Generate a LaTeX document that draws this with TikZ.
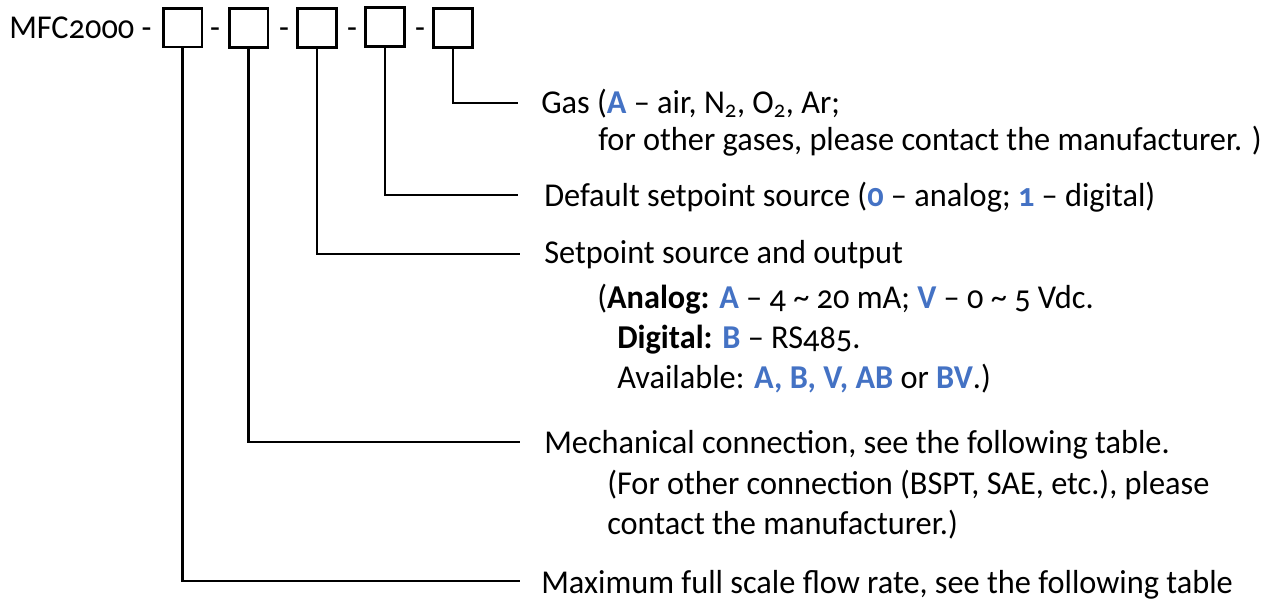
\documentclass[tikz,border=0pt]{standalone}
\usepackage{fontspec}
\setmainfont[Numbers=OldStyle,FakeStretch=0.97]{Carlito}
\usetikzlibrary{positioning}
\definecolor{codeblue}{HTML}{4472C4}
\newcommand{\code}[1]{\textbf{\color{codeblue}#1}}

\begin{document}
\begin{tikzpicture}[x=0.75pt,y=-0.75pt, every node/.style={font=\fontsize{25}{30}\selectfont,inner sep=0pt},
  slot/.style={draw,line width=2pt,minimum size=29pt}, lead/.style={line width=1.8pt}]
\useasboundingbox (0,0) rectangle (1277,601);
% model code with five slots
\node[anchor=base west] (model) at (9,38) {MFC2000 -};
\node[slot] (s1) at (182.5,27.5) {};
\node[slot] (s2) at (248.5,28) {};
\node[slot] (s3) at (317,28) {};
\node[slot] (s4) at (385,27) {};
\node[slot] (s5) at (453,28) {};
\node[anchor=base] (d1) at (215,38) {-};
\node[anchor=base] (d2) at (284,38) {-};
\node[anchor=base] (d3) at (352,38) {-};
\node[anchor=base] (d4) at (420,38) {-};
% explanations
\node[anchor=base west] (gas) at (541,113) {Gas (\code{A} -- air, N\textsubscript{2}, O\textsubscript{2}, Ar;};
\node[anchor=base west] (gasb) at (598,150) {for other gases, please contact the manufacturer. )};
\node[anchor=base west] (dflt) at (544,206) {Default setpoint source (\code{0} -- analog; \code{1} -- digital)};
\node[anchor=base west] (src) at (544,263) {Setpoint source and output};
\node[anchor=base west] (srca) at (597,308) {(\textbf{Analog:} \code{A} -- 4 \textasciitilde{} 20 mA; \code{V} -- 0 \textasciitilde{} 5 Vdc.};
\node[anchor=base west] (srcb) at (617,348) {\textbf{Digital:} \code{B} -- RS485.};
\node[anchor=base west] (srcc) at (617,388) {Available: \code{A, B, V, AB} or \code{BV}.)};
\node[anchor=base west] (mech) at (544,453) {Mechanical connection, see the following table.};
\node[anchor=base west] (mechb) at (607,494) {(For other connection (BSPT, SAE, etc.), please};
\node[anchor=base west] (mechc) at (607,534) {contact the manufacturer.)};
\node[anchor=base west] (flow) at (541,593) {Maximum full scale flow rate, see the following table};
% leader lines
\coordinate (e5) at (518,103);
\coordinate (e4) at (518,195);
\coordinate (e3) at (520,254);
\coordinate (e2) at (520,442);
\coordinate (e1) at (520,581);
\draw[lead] (s5.south) |- (e5);
\draw[lead] (s4.south) |- (e4);
\draw[lead] (s3.south) |- (e3);
\draw[lead] (s2.south) |- (e2);
\draw[lead] (s1.south) |- (e1);
\end{tikzpicture}
\end{document}
